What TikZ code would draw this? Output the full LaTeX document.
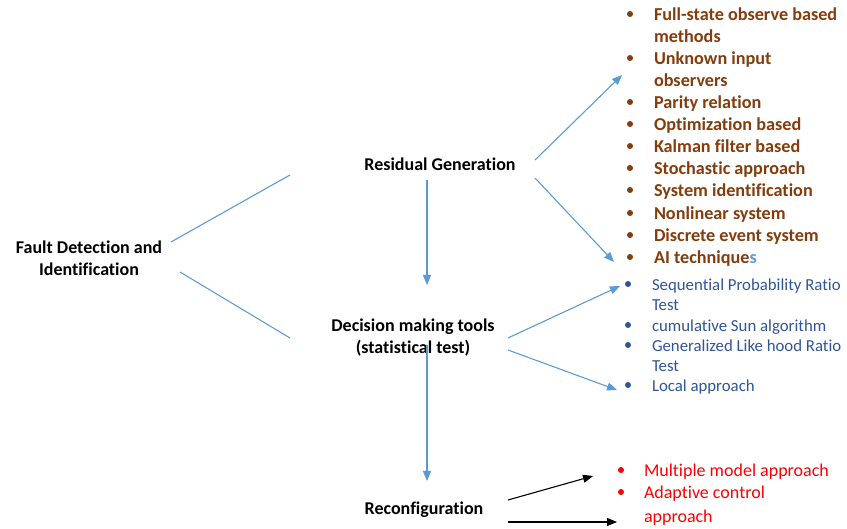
\documentclass[tikz,border=0pt]{standalone}
\usepackage{fontspec}
\setmainfont{Carlito}[Ligatures=NoCommon]
\usetikzlibrary{arrows.meta}
\definecolor{linkblue}{HTML}{5B9BD5}
\definecolor{itembrown}{HTML}{843C0C}
\definecolor{itemblue}{HTML}{2F5597}
\definecolor{itemred}{HTML}{FF0000}
\tikzset{
  every node/.style={inner sep=0pt, outer sep=0pt},
  mainlabel/.style={font=\fontsize{18}{22}\selectfont\bfseries, align=center},
  brownitem/.style={anchor=base west, text=itembrown, font=\fontsize{18.2}{22}\selectfont\bfseries},
  blueitem/.style={anchor=base west, text=itemblue, font=\fontsize{16.8}{20}\selectfont},
  reditem/.style={anchor=base west, text=itemred, font=\fontsize{18}{22}\selectfont},
  dot/.style={circle, fill=#1, inner sep=0pt, minimum size=6pt},
  link/.style={draw=linkblue, line width=1.1pt},
  linkarrow/.style={link, -{Triangle[length=10pt,width=8pt]}},
  blackarrow/.style={draw=black, line width=1.1pt, -{Triangle[length=10pt,width=8pt]}},
}
\begin{document}
\begin{tikzpicture}[x=1pt, y=-1pt]
\useasboundingbox (0,0) rectangle (847,529);

% main stages
\node[mainlabel] (fdi) at (89,258) {Fault Detection and\\Identification};
\node[mainlabel] (res) at (440,164) {Residual Generation};
\node[mainlabel] (dec) at (413,338) {Decision making tools\\(statistical test)};
\node[mainlabel] (rec) at (424,510) {Reconfiguration};

% residual generation methods
\foreach \y/\t/\b [count=\i] in {
  14/Full-state observe based/1, 36/methods/0,
  58/Unknown input/1, 80/observers/0,
  102/Parity relation/1, 124/Optimization based/1,
  146/Kalman filter based/1, 168/Stochastic approach/1,
  190/System identification/1, 213/Nonlinear system/1,
  235/Discrete event system/1} {
  \node[brownitem] (r\i) at (654,\y+7) {\t};
  \ifnum\b=1 \node[dot=itembrown] (rb\i) at (630,\y) {}; \fi
}
\node[brownitem] (r12) at (654,264) {AI technique\textcolor{linkblue}{s}};
\node[dot=itembrown] (rb12) at (630,257) {};

% decision making methods
\foreach \y/\t/\b [count=\i] in {
  284/Sequential Probability Ratio/1, 304/Test/0,
  325/cumulative Sun algorithm/1, 345/Generalized Like hood Ratio/1,
  365/Test/0, 385/Local approach/1} {
  \node[blueitem] (d\i) at (652,\y+6.5) {\t};
  \ifnum\b=1 \node[dot=itemblue] (db\i) at (628,\y) {}; \fi
}

% reconfiguration methods
\foreach \y/\t/\b [count=\i] in {
  470/Multiple model approach/1, 492/Adaptive control/1, 515/approach/0} {
  \node[reditem] (c\i) at (644,\y+7) {\t};
  \ifnum\b=1 \node[dot=itemred] (cb\i) at (621,\y) {}; \fi
}

% connector end points
\coordinate (fa) at (171,242);
\coordinate (fb) at (180,272);
\coordinate (ra) at (290,175);
\coordinate (da) at (290,338);
\coordinate (rdown) at (427,180);
\coordinate (dup) at (427,285);
\coordinate (ddown) at (427,345);
\coordinate (cup) at (427,481);
\coordinate (r1s) at (535,160);
\coordinate (r1e) at (622,75);
\coordinate (r2s) at (535,178);
\coordinate (r2e) at (614,262);
\coordinate (d1s) at (508,338);
\coordinate (d1e) at (620,286);
\coordinate (d2s) at (508,350);
\coordinate (d2e) at (617,390);
\coordinate (c1s) at (508,500);
\coordinate (c1e) at (593,476);
\coordinate (c2s) at (508,522);
\coordinate (c2e) at (617,522);

% connectors
\draw[link] (fa) -- (ra);
\draw[link] (fb) -- (da);
\draw[linkarrow] (rdown) -- (dup);
\draw[linkarrow] (ddown) -- (cup);
\draw[linkarrow] (r1s) -- (r1e);
\draw[linkarrow] (r2s) -- (r2e);
\draw[linkarrow] (d1s) -- (d1e);
\draw[linkarrow] (d2s) -- (d2e);
\draw[blackarrow] (c1s) -- (c1e);
\draw[blackarrow] (c2s) -- (c2e);
\end{tikzpicture}
\end{document}
